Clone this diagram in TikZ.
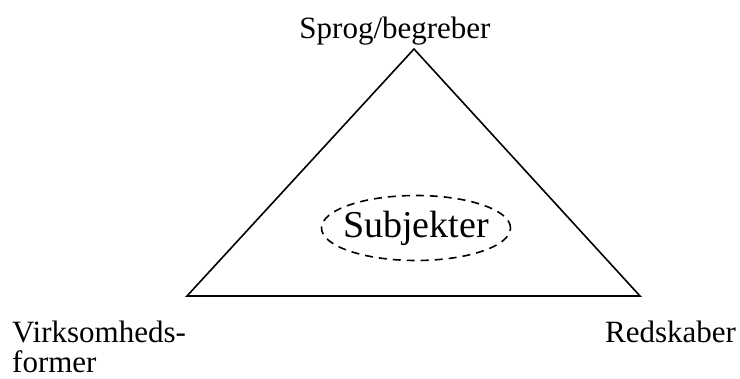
\documentclass[tikz,border=0pt]{standalone}
\usepackage{fontspec}
\setmainfont{Liberation Serif}
\usetikzlibrary{shapes.geometric}

\begin{document}
\begin{tikzpicture}[x=1pt,y=-1pt,
  corner/.style={inner sep=0pt,font=\fontsize{31}{30}\selectfont},
  subj/.style={ellipse,draw,dashed,line width=1.6pt,dash pattern=on 8pt off 6pt,
    minimum width=188pt,minimum height=65pt,inner xsep=-6pt,inner ysep=0pt,font=\fontsize{38}{38}\selectfont}]
\useasboundingbox (0,0) rectangle (740,379);
\coordinate (apex) at (414,49);
\coordinate (left) at (187,296);
\coordinate (right) at (640,296);
\draw[line width=1.6pt,line join=miter] (apex) -- (left) -- (right) -- cycle;
\node[subj] (subjekter) at (416,228) {Subjekter};
\node[corner,anchor=base] (sprog) at (395,39) {Sprog/begreber};
\node[corner,anchor=north west,align=left] (virk) at (12,321) {Virksomheds-\\former};
\node[corner,anchor=base west] (red) at (605,343) {Redskaber};
\end{tikzpicture}
\end{document}
